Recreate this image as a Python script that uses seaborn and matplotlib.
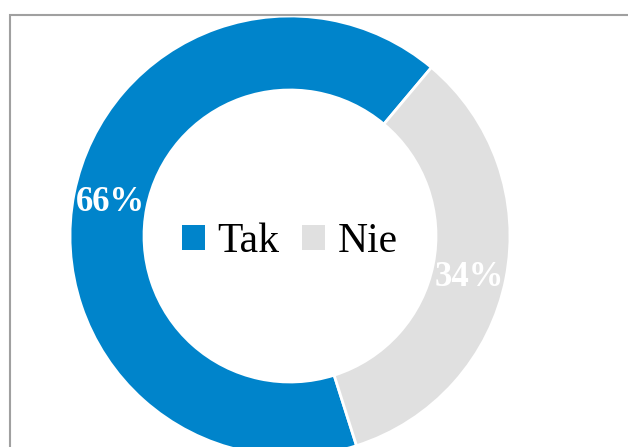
import matplotlib
matplotlib.use("Agg")
import matplotlib.pyplot as plt
import seaborn as sns
from matplotlib.patches import Rectangle

# data
labels = ["Tak", "Nie"]
values = [66, 34]
colors = ["#0084CB", "#E0E0E0"]

sns.set_theme(style="white")
plt.rcParams["font.family"] = ["Liberation Serif", "DejaVu Serif"]

W, H = 628, 447
fig = plt.figure(figsize=(W / 100, H / 100), dpi=100)
ax = fig.add_axes([0, 0, 1, 1])

wedges, texts, autotexts = ax.pie(
    values,
    colors=colors,
    startangle=50,
    counterclock=True,
    radius=220,
    center=(290, H - 236),
    autopct="%1.0f%%",
    pctdistance=0.83,
    wedgeprops=dict(width=74, edgecolor="white", linewidth=2),
    textprops=dict(color="white", fontsize=25, fontweight="bold"),
    frame=True,
)
ax.set_xlim(0, W)
ax.set_ylim(0, H)
ax.set_aspect("equal")
ax.axis("off")

# nudge the labels down a bit, like in the original
for t, dy in zip(autotexts, [-2, -6]):
    x, y = t.get_position()
    t.set_position((x, y + dy))

leg = ax.legend(
    wedges, labels,
    loc="center", bbox_to_anchor=(290 / W, 1 - 242 / H),
    ncol=2, frameon=False, fontsize=30, labelcolor="black",
    handlelength=0.55, handleheight=0.55,
    handletextpad=0.3, columnspacing=0.55,
)
for h in leg.legend_handles:
    h.set_edgecolor("none")

# outer chart border (cut off at right and bottom)
ax.add_patch(Rectangle((9.5, -20), 700, H - 14.5 + 20, fill=False,
                       edgecolor="#A0A0A0", linewidth=1.5, clip_on=False))

fig.savefig("out.png", dpi=100)
